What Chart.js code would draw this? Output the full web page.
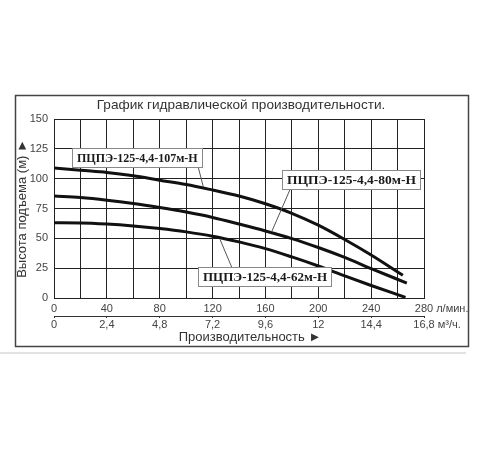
<!DOCTYPE html>
<html lang="ru">
<head>
<meta charset="utf-8">
<title>График гидравлической производительности</title>
<script src="https://cdn.jsdelivr.net/npm/chart.js@4/dist/chart.umd.min.js"></script>
<style>
    body { margin: 0; background: #fff; }
    #pumpChart { display: block; }
</style>
</head>
<body>
<canvas id="pumpChart" width="500" height="450"></canvas>
<script>
// Tick labels
const flowTickLabels = ['0', '40', '80', '120', '160', '200', '240', '280'];
const volumeTickLabels = ['0', '2,4', '4,8', '7,2', '9,6', '12', '14,4', '16,8'];
const headTicks = [0, 25, 50, 75, 100, 125, 150];

// Series: flow (l/min) and head (m)
const flow107 = [0, 20, 40, 60, 80, 100, 120, 140, 160, 180, 200, 220, 240, 264];
const head107 = [109, 107, 105.2, 102.4, 98.7, 95.1, 90.5, 85.5, 79, 71, 61, 49, 36, 19];

const flow80 = [0, 20, 40, 60, 80, 100, 120, 140, 160, 180, 200, 220, 240, 267];
const head80 = [85.5, 84.2, 82, 79.2, 75.8, 72, 67.5, 62, 56.2, 49.8, 42.3, 34, 24.7, 12.5];

const flow62 = [0, 20, 40, 60, 80, 100, 120, 140, 160, 180, 200, 220, 240, 266];
const head62 = [63, 62.9, 62, 60.4, 58.2, 55.4, 51.8, 47, 41.4, 34.4, 26.8, 18.5, 10.5, 0.5];

const seriesNames = ['ПЦПЭ-125-4,4-107м-Н', 'ПЦПЭ-125-4,4-80м-Н', 'ПЦПЭ-125-4,4-62м-Н'];

// Label boxes: left edge / middle of box and leader line, in data units
const callouts = [
    { text: seriesNames[0], size: 12, x: 13.4, y: 117.4, from: [109.2, 109.4], to: [113, 93.1] },
    { text: seriesNames[1], size: 13.5, x: 172.5, y: 99, from: [178.6, 90.9], to: [164.7, 55.4] },
    { text: seriesNames[2], size: 13, x: 108.7, y: 17.8, from: [134.5, 25.8], to: [125.6, 49.2] }
];

const sansFont = '"Liberation Sans", Arial, sans-serif';
const tickFont = { family: sansFont, size: 11 };

function toPoints(xs, ys) {
    return xs.map((x, i) => ({ x: x, y: ys[i] }));
}

function curve(label, xs, ys) {
    return {
        label: label,
        data: toPoints(xs, ys),
        borderColor: '#111',
        borderWidth: 3,
        pointRadius: 0,
        fill: false,
        cubicInterpolationMode: 'monotone',
        xAxisID: 'x',
        yAxisID: 'y'
    };
}

// Frame, title, units, callouts
const decorations = {
    id: 'decorations',
    beforeDraw(chart) {
        const ctx = chart.ctx;
        ctx.save();
        ctx.fillStyle = '#fff';
        ctx.fillRect(0, 0, chart.width, chart.height);
        ctx.strokeStyle = '#e2e2e2';
        ctx.lineWidth = 2;
        ctx.beginPath();
        ctx.moveTo(0, 353);
        ctx.lineTo(466, 353);
        ctx.stroke();
        ctx.strokeStyle = '#444';
        ctx.lineWidth = 1.5;
        ctx.strokeRect(15.5, 95.5, 453, 251);
        ctx.restore();
    },
    afterDatasetsDraw(chart) {
        const ctx = chart.ctx;
        const x = chart.scales.x;
        const x2 = chart.scales.x2;
        const y = chart.scales.y;
        ctx.save();

        ctx.fillStyle = '#333';
        ctx.textBaseline = 'middle';
        ctx.textAlign = 'center';
        ctx.font = '13.6px ' + sansFont;
        ctx.fillText('График гидравлической производительности.', 241, 105);
        ctx.font = '13px ' + sansFont;
        ctx.fillText('Производительность ►', 250, 337);

        // units after the last tick labels
        ctx.fillStyle = '#444';
        ctx.textAlign = 'left';
        ctx.font = '11px ' + sansFont;
        const px280 = x.getPixelForValue(280);
        ctx.fillText('л/мин.', px280 + ctx.measureText('280').width / 2 + 3, x.top + 10.5);
        const px168 = x2.getPixelForValue(16.8);
        ctx.fillText('м³/ч.', px168 + ctx.measureText('16,8').width / 2 + 3, x2.top + 8.5);

        // callouts
        callouts.forEach(c => {
            ctx.font = 'bold ' + c.size + 'px "Liberation Serif", "Times New Roman", serif';
            ctx.strokeStyle = '#555';
            ctx.lineWidth = 1;
            ctx.beginPath();
            ctx.moveTo(x.getPixelForValue(c.from[0]), y.getPixelForValue(c.from[1]));
            ctx.lineTo(x.getPixelForValue(c.to[0]), y.getPixelForValue(c.to[1]));
            ctx.stroke();

            const w = Math.round(ctx.measureText(c.text).width + 9);
            const left = Math.round(x.getPixelForValue(c.x)) + 0.5;
            const mid = y.getPixelForValue(c.y);
            const top = Math.round(mid - 9.5) + 0.5;
            ctx.fillStyle = '#fff';
            ctx.fillRect(left, top, w, 19);
            ctx.strokeStyle = '#888';
            ctx.strokeRect(left, top, w, 19);
            ctx.fillStyle = '#1a1a1a';
            ctx.fillText(c.text, left + 4.5, mid + 1);
        });
        ctx.restore();
    }
};

const ctx = document.getElementById('pumpChart').getContext('2d');
new Chart(ctx, {
    type: 'line',
    data: {
        datasets: [
            curve(seriesNames[0], flow107, head107),
            curve(seriesNames[1], flow80, head80),
            curve(seriesNames[2], flow62, head62)
        ]
    },
    options: {
        responsive: false,
        animation: false,
        layout: {
            padding: { left: 15, right: 76, top: 119, bottom: 114 }
        },
        plugins: {
            legend: { display: false },
            tooltip: { enabled: false }
        },
        scales: {
            x: {
                type: 'linear',
                position: 'bottom',
                min: 0,
                max: 280,
                ticks: {
                    stepSize: 20,
                    autoSkip: false,
                    maxRotation: 0,
                    padding: 4,
                    color: '#444',
                    font: tickFont,
                    callback: v => (v % 40 === 0 ? flowTickLabels[v / 40] : '')
                },
                grid: { color: '#222', lineWidth: 1, drawTicks: false },
                border: { color: '#222' },
                afterFit: s => { s.height = 18; }
            },
            x2: {
                type: 'linear',
                position: 'bottom',
                min: 0,
                max: 16.8,
                afterBuildTicks: s => {
                    s.ticks = volumeTickLabels.map((t, i) => ({ value: i * 2.4 }));
                },
                ticks: {
                    autoSkip: false,
                    maxRotation: 0,
                    padding: 0,
                    color: '#444',
                    font: tickFont,
                    callback: (v, i) => volumeTickLabels[i]
                },
                grid: { drawOnChartArea: false, color: '#333', tickLength: 2 },
                border: { color: '#333' },
                afterFit: s => { s.height = 20; }
            },
            y: {
                min: 0,
                max: 150,
                afterBuildTicks: s => {
                    s.ticks = headTicks.map(v => ({ value: v }));
                },
                ticks: {
                    padding: 6,
                    color: '#444',
                    font: tickFont
                },
                grid: { color: '#222', lineWidth: 1, drawTicks: false },
                border: { color: '#222' },
                title: {
                    display: true,
                    text: 'Высота подъема (м) ►',
                    color: '#333',
                    font: { family: sansFont, size: 13 },
                    padding: 0
                },
                afterFit: s => { s.width = 39; }
            }
        }
    },
    plugins: [decorations]
});
</script>
</body>
</html>
